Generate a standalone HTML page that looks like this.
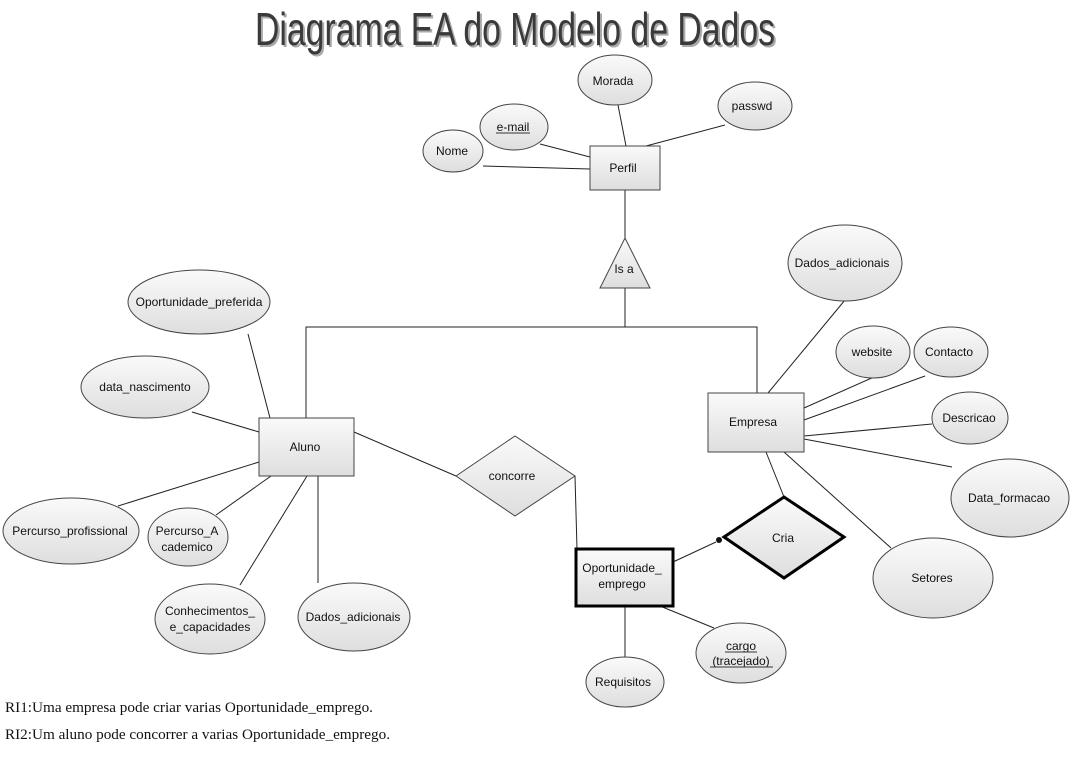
<!DOCTYPE html>
<html><head><meta charset="utf-8"><style>
html,body{margin:0;padding:0;background:#fff;width:1075px;height:775px;overflow:hidden}
svg{display:block}
text{font-family:"Liberation Sans",sans-serif;font-size:12px;fill:#111}
.l{stroke:#222;stroke-width:1;fill:none}
.s{fill:url(#g);stroke:#444;stroke-width:1}
.t{font-family:"Liberation Serif",serif;font-size:14.5px}
</style></head><body>
<svg width="1075" height="775" viewBox="0 0 1075 775" xmlns="http://www.w3.org/2000/svg">
<defs>
<linearGradient id="g" x1="0" y1="0" x2="0" y2="1"><stop offset="0" stop-color="#fafafa"/><stop offset="1" stop-color="#dedede"/></linearGradient>
</defs>
<text x="515" y="45" text-anchor="middle" textLength="520" lengthAdjust="spacingAndGlyphs" style="font-size:46px;fill:#aaa" transform="translate(2,2)">Diagrama EA do Modelo de Dados</text>
<text x="515" y="45" text-anchor="middle" textLength="520" lengthAdjust="spacingAndGlyphs" style="font-size:46px;fill:#3a3a3a">Diagrama EA do Modelo de Dados</text>

<g class="l">
<line x1="483" y1="166" x2="590" y2="169"/>
<line x1="540" y1="144" x2="590" y2="157"/>
<line x1="618" y1="105" x2="626" y2="146"/>
<line x1="725" y1="125" x2="646" y2="146"/>
<line x1="625" y1="190" x2="625" y2="238"/>
<polyline points="625,288 625,327 306,327 306,418"/>
<polyline points="625,327 757,327 757,393"/>
<line x1="248" y1="334" x2="270" y2="418"/>
<line x1="192" y1="412" x2="259" y2="432"/>
<line x1="118" y1="506" x2="259" y2="462"/>
<line x1="216" y1="515" x2="271" y2="476"/>
<line x1="240" y1="585" x2="307" y2="476"/>
<line x1="318" y1="476" x2="318" y2="583"/>
<line x1="354" y1="432" x2="456" y2="476"/>
<line x1="575" y1="476" x2="577" y2="549"/>
<line x1="768" y1="393" x2="845" y2="300"/>
<line x1="804" y1="408" x2="874" y2="377"/>
<line x1="804" y1="420" x2="925" y2="376"/>
<line x1="804" y1="436" x2="932" y2="424"/>
<line x1="804" y1="439" x2="952" y2="467"/>
<line x1="784" y1="452" x2="891" y2="548"/>
<line x1="766" y1="452" x2="784" y2="497"/>
<line x1="673" y1="562" x2="716" y2="542"/>
<line x1="625" y1="606" x2="625" y2="657"/>
<line x1="660" y1="606" x2="714" y2="628"/>
</g>
<circle cx="719" cy="540" r="3" fill="#111"/>

<g class="s">
<ellipse cx="615" cy="80" rx="37" ry="25"/>
<ellipse cx="755" cy="106" rx="37" ry="24"/>
<ellipse cx="514" cy="127" rx="34" ry="23"/>
<ellipse cx="453" cy="151" rx="30" ry="21"/>
<ellipse cx="199" cy="302" rx="71" ry="32"/>
<ellipse cx="145" cy="387" rx="64" ry="31"/>
<ellipse cx="71" cy="531" rx="68" ry="33"/>
<ellipse cx="188" cy="537" rx="40" ry="29"/>
<ellipse cx="210" cy="619" rx="55" ry="35"/>
<ellipse cx="354" cy="617" rx="56" ry="34"/>
<ellipse cx="845" cy="263" rx="57" ry="38"/>
<ellipse cx="873" cy="352" rx="37" ry="26"/>
<ellipse cx="951" cy="352" rx="37" ry="25"/>
<ellipse cx="970" cy="418" rx="38" ry="26"/>
<ellipse cx="1010" cy="498" rx="59" ry="39"/>
<ellipse cx="933" cy="578" rx="60" ry="40"/>
<ellipse cx="625" cy="682" rx="39" ry="25"/>
<ellipse cx="741" cy="653" rx="45" ry="30"/>
<rect x="590" y="146" width="70" height="44"/>
<polygon points="625,238 650,288 600,288"/>
<rect x="259" y="418" width="95" height="58"/>
<rect x="708" y="393" width="96" height="59"/>
<polygon points="456,476 515,436 575,476 515,516"/>
</g>
<polygon class="s" points="724,537 784,497 844,537 784,578" style="stroke:#000;stroke-width:3"/>
<rect class="s" x="576" y="549" width="97" height="57" style="stroke:#000;stroke-width:3"/>

<g text-anchor="middle">
<text x="613" y="85">Morada</text>
<text x="752" y="110">passwd</text>
<text x="513" y="131">e-mail</text>
<line x1="496" y1="133" x2="530" y2="133" stroke="#333"/>
<text x="452" y="155">Nome</text>
<text x="623" y="172">Perfil</text>
<text x="624" y="273">Is a</text>
<text x="199" y="306">Oportunidade_preferida</text>
<text x="145" y="391">data_nascimento</text>
<text x="305" y="451">Aluno</text>
<text x="70" y="535">Percurso_profissional</text>
<text x="187" y="535">Percurso_A</text>
<text x="187" y="551">cademico</text>
<text x="210" y="615">Conhecimentos_</text>
<text x="210" y="631">e_capacidades</text>
<text x="353" y="621">Dados_adicionais</text>
<text x="512" y="480">concorre</text>
<text x="753" y="426">Empresa</text>
<text x="842" y="267">Dados_adicionais</text>
<text x="872" y="356">website</text>
<text x="949" y="356">Contacto</text>
<text x="969" y="422">Descricao</text>
<text x="1009" y="502">Data_formacao</text>
<text x="932" y="582">Setores</text>
<text x="783" y="542">Cria</text>
<text x="622" y="572">Oportunidade_</text>
<text x="622" y="588">emprego</text>
<text x="623" y="686">Requisitos</text>
<text x="741" y="650">cargo</text>
<text x="741" y="665">(tracejado)</text>
<line x1="725" y1="652" x2="757" y2="652" stroke="#333"/>
<line x1="710" y1="667" x2="773" y2="667" stroke="#333"/>
</g>
<text class="t" x="5" y="712" textLength="368" lengthAdjust="spacingAndGlyphs">RI1:Uma empresa pode criar varias Oportunidade_emprego.</text>
<text class="t" x="5" y="739" textLength="385" lengthAdjust="spacingAndGlyphs">RI2:Um aluno pode concorrer a varias Oportunidade_emprego.</text>
</svg>
</body></html>
